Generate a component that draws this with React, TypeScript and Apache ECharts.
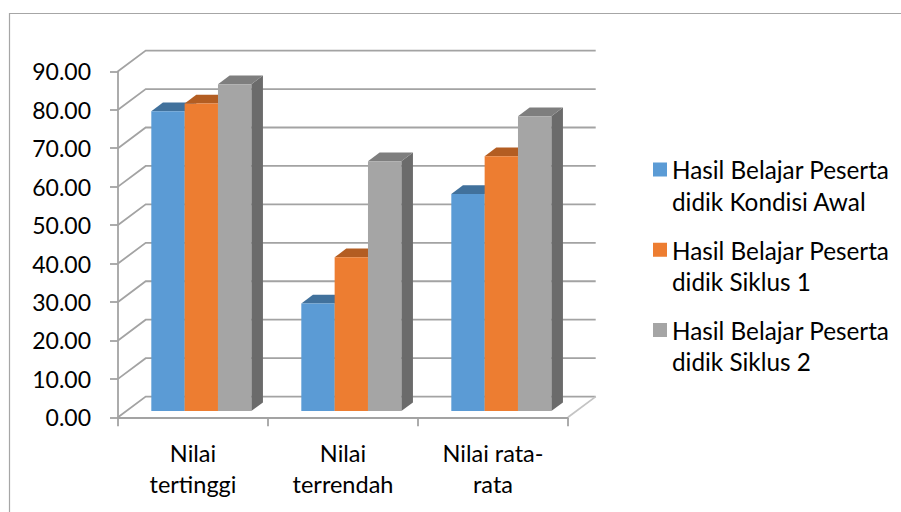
import React, { useEffect, useRef } from "react";
import * as echarts from "echarts";

const CATEGORIES = ["Nilai tertinggi", "Nilai terrendah", "Nilai rata-rata"];
const CATEGORY_LABELS = ["Nilai\ntertinggi", "Nilai\nterrendah", "Nilai rata-\nrata"];
const SERIES_NAMES = [
  "Hasil Belajar Peserta didik Kondisi Awal",
  "Hasil Belajar Peserta didik Siklus 1",
  "Hasil Belajar Peserta didik Siklus 2",
];
const KONDISI_AWAL = [78, 28, 56.5];
const SIKLUS_1 = [80, 40, 66.3];
const SIKLUS_2 = [85, 65, 76.7];
const Y_TICKS = [0, 10, 20, 30, 40, 50, 60, 70, 80, 90];

const FRONT = ["#5b9bd5", "#ed7d31", "#a5a5a5"];
const TOP = ["#41719c", "#b35d22", "#7e7e7e"];
const SIDE = ["#3c6a93", "#a9571f", "#6b6b6b"];

const DX = 27.7;
const DY = 20.7;
const D0 = 0.3;
const DD = 0.42;
const GAP = 0.75 / 4.5;
const BW = 1 / 4.5;
const GRID_COLOR = "#a3a3a3";
const FONT = "Lato";

export default function App() {
  const ref = useRef<HTMLDivElement>(null);
  useEffect(() => {
    const chart = echarts.init(ref.current!, null, { renderer: "svg" });
    const values = [KONDISI_AWAL, SIKLUS_1, SIKLUS_2];
    const nCat = CATEGORIES.length;

    const wallSeries: any = {
      type: "custom",
      name: "walls",
      xAxisIndex: 0,
      yAxisIndex: 0,
      silent: true,
      z: 1,
      data: Y_TICKS.map((v) => [v]),
      renderItem: (params: any, api: any) => {
        const v = api.value(0);
        const p0 = api.coord([0, v]);
        const p1 = api.coord([nCat, v]);
        const children: any[] = [
          {
            type: "polyline",
            shape: {
              points: [
                [p0[0], p0[1]],
                [p0[0] + DX, p0[1] - DY],
                [p1[0] + DX, p1[1] - DY],
              ],
            },
            style: { stroke: GRID_COLOR, lineWidth: 1.8, fill: null },
          },
        ];
        if (v === 0) {
          children.push({
            type: "line",
            shape: { x1: p1[0], y1: p1[1], x2: p1[0] + DX, y2: p1[1] - DY },
            style: { stroke: "#c4c4c4", lineWidth: 1.8 },
          });
        }
        return { type: "group", children };
      },
    };

    const barSeries = values.map((arr, s) => ({
      type: "custom",
      name: SERIES_NAMES[s],
      xAxisIndex: 0,
      yAxisIndex: 0,
      z: 2,
      itemStyle: { color: FRONT[s] },
      data: arr.map((v, i) => [i, v]),
      renderItem: (params: any, api: any) => {
        const i = api.value(0);
        const v = api.value(1);
        const left = i + GAP + s * BW;
        const pb = api.coord([left, 0]);
        const pt = api.coord([left + BW, v]);
        const fx = D0 * DX;
        const fy = -D0 * DY;
        const x0 = pb[0] + fx;
        const x1 = pt[0] + fx;
        const yb = pb[1] + fy;
        const yt = pt[1] + fy;
        const ddx = DD * DX;
        const ddy = DD * DY;
        return {
          type: "group",
          children: [
            {
              type: "polygon",
              shape: {
                points: [
                  [x1, yt],
                  [x1 + ddx, yt - ddy],
                  [x1 + ddx, yb - ddy],
                  [x1, yb],
                ],
              },
              style: { fill: SIDE[s] },
            },
            {
              type: "polygon",
              shape: {
                points: [
                  [x0, yt],
                  [x1, yt],
                  [x1 + ddx, yt - ddy],
                  [x0 + ddx, yt - ddy],
                ],
              },
              style: { fill: TOP[s] },
            },
            {
              type: "rect",
              shape: { x: x0, y: yt, width: x1 - x0, height: yb - yt },
              style: { fill: FRONT[s] },
            },
          ],
        };
      },
    }));

    const option: any = {
      animation: false,
      backgroundColor: "#ffffff",
      textStyle: { fontFamily: FONT },
      graphic: [
        {
          type: "rect",
          shape: { x: 9.5, y: 13.5, width: 1000, height: 1000 },
          style: { stroke: "#a6a6a6", lineWidth: 1.2, fill: null },
          silent: true,
        },
      ],
      grid: {
        left: 118,
        top: 71.3,
        width: 450,
        height: 346,
        outerBoundsMode: "none",
        containLabel: false,
      },
      xAxis: [
        {
          type: "value",
          min: 0,
          max: nCat,
          show: false,
        },
        {
          type: "category",
          data: CATEGORIES,
          position: "bottom",
          boundaryGap: true,
          axisLine: { show: true, lineStyle: { color: GRID_COLOR, width: 1.8 } },
          axisTick: {
            show: true,
            interval: 0,
            length: 9,
            lineStyle: { color: GRID_COLOR, width: 1.8 },
          },
          axisLabel: {
            interval: 0,
            margin: 20,
            fontFamily: FONT,
            fontSize: 23.5,
            lineHeight: 31,
            color: "#000000",
            formatter: (val: string) => CATEGORY_LABELS[CATEGORIES.indexOf(val)],
          },
        },
      ],
      yAxis: {
        type: "value",
        min: 0,
        max: 90,
        interval: 10,
        axisLine: { show: true, lineStyle: { color: GRID_COLOR, width: 1.8 } },
        axisTick: { show: true, length: 8, lineStyle: { color: GRID_COLOR, width: 1.8 } },
        splitLine: { show: false },
        axisLabel: {
          margin: 27,
          fontFamily: FONT,
          fontSize: 23,
          color: "#000000",
          formatter: (v: number) => v.toFixed(2),
        },
      },
      legend: {
        orient: "vertical",
        left: 648,
        top: 149,
        itemWidth: 14,
        itemHeight: 46,
        itemGap: 17,
        icon: "path://M0,0 L14,0 L14,14 L0,14 Z M0,46 L0.01,46 L0.01,45.99 Z",
        itemStyle: { borderWidth: 0 },
        selectedMode: false,
        data: SERIES_NAMES,
        formatter: (name: string) => name.replace(" didik", "\ndidik"),
        textStyle: {
          fontFamily: FONT,
          fontSize: 24.3,
          lineHeight: 31.6,
          color: "#000000",
          padding: [0, 0, 0, 0],
        },
      },
      series: [wallSeries, ...barSeries],
    };
    chart.setOption(option);
    return () => chart.dispose();
  }, []);
  return (
    <div
      ref={ref}
      style={{ position: "fixed", left: 0, top: 0, width: 901, height: 512 }}
    />
  );
}
